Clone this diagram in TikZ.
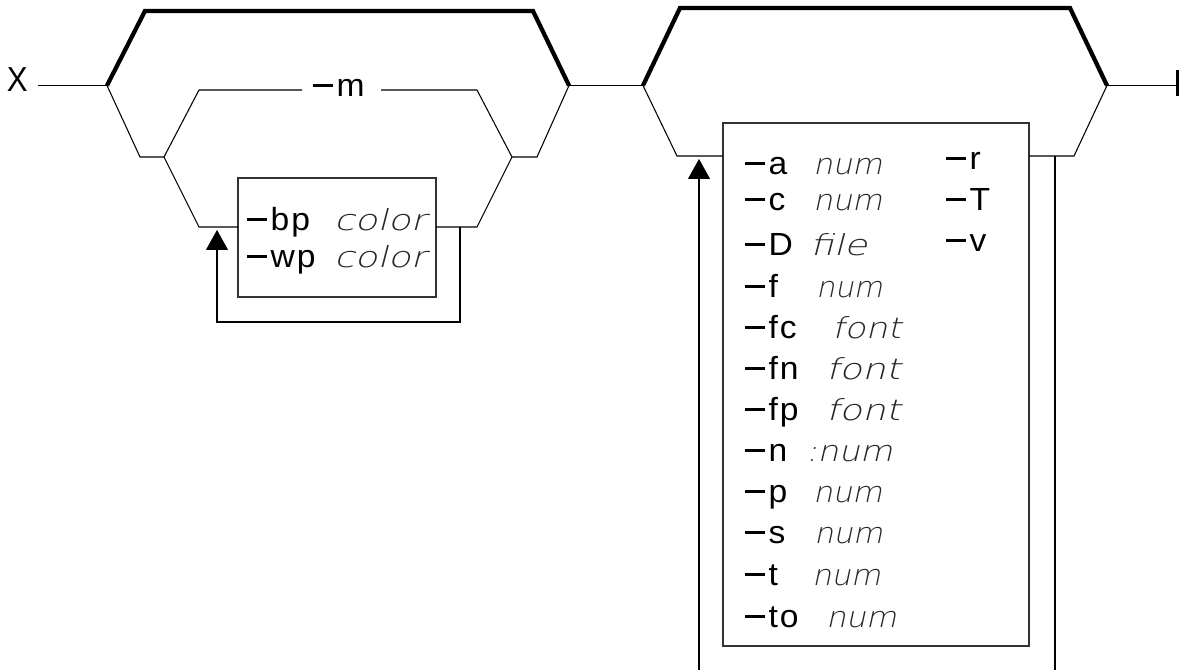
\documentclass[tikz,border=0pt]{standalone}
\usepackage{fontspec}
\usepackage{graphicx}
\setmainfont{Liberation Sans}
\newfontfamily\rmtxt{Liberation Sans}[FakeStretch=1.05, LetterSpace=6]
\newfontfamily\xtxt{Liberation Sans}[FakeStretch=0.9]
\newfontfamily\ittxt{DejaVu Sans ExtraLight}[FakeSlant=0.2]
\newcommand\optdash{\rule[0.31em]{0.64em}{2.2pt}\kern0.1em}
\usetikzlibrary{arrows.meta}
\tikzset{
  thickbracket/.style={line width=3.2pt, line join=miter, line cap=butt},
  thinline/.style={line width=0.8pt},
  optbox/.style={draw=black!80, line width=1.1pt, rectangle, inner sep=0pt, outer sep=0pt},
  rtxt/.style={inner sep=0pt, outer sep=0pt, anchor=base west, font=\rmtxt\fontsize{24}{28}\selectfont},
  itxt/.style={inner sep=0pt, outer sep=0pt, anchor=base west, text=black!85, font=\ittxt\fontsize{21.7}{26}\selectfont},
  uparrow/.style={thinline, -{Triangle[length=15pt,width=16.5pt]}},
  endbar/.style={line width=1.8pt}
}
\begin{document}
\begin{tikzpicture}[x=0.75pt,y=-0.75pt]
\useasboundingbox (0,0) rectangle (1179,670);
% boxes
\node[optbox, minimum width=148.5pt, minimum height=89.25pt] (b1) at (337,237.5) {};
\node[optbox, minimum width=229.5pt, minimum height=392.25pt] (b2) at (876,384.5) {};
% start label
\node[inner sep=0pt, outer sep=0pt, anchor=base west, font=\xtxt\fontsize{26}{30}\selectfont] (X) at (7,92) {X};
% main line coordinates
\coordinate (xs) at (38,85.5);
\coordinate (L1) at (107,85.5);
\coordinate (T1a) at (145,11);
\coordinate (T1b) at (533,11);
\coordinate (R1) at (569,85.5);
\coordinate (L2) at (643,85.5);
\coordinate (T2a) at (680,8);
\coordinate (T2b) at (1070,8);
\coordinate (R2) at (1107,85.5);
\coordinate (E) at (1177.5,85.5);
\coordinate (Et) at (1177.5,70);
\coordinate (Eb) at (1177.5,96);
\draw[thinline] (xs) -- (L1);
\draw[thickbracket] (L1) -- (T1a) -- (T1b) -- (R1);
\draw[thinline] (R1) -- (L2);
\draw[thickbracket] (L2) -- (T2a) -- (T2b) -- (R2);
\draw[thinline] (R2) -- (E);
\draw[endbar] (Et) -- (Eb);
% first group, lower branches
\coordinate (a1) at (140,157);
\coordinate (j1) at (164,157);
\coordinate (j2) at (512,157);
\coordinate (a2) at (537,157);
\coordinate (m1) at (199,90);
\coordinate (mL) at (302,90);
\coordinate (mR) at (381,90);
\coordinate (m2) at (477,90);
\coordinate (p1) at (199,227);
\coordinate (p2) at (477,227);
\node[rtxt] (mt) at (313,97) {\optdash m};
\draw[thinline] (L1) -- (a1) -- (j1);
\draw[thinline] (j2) -- (a2) -- (R1);
\draw[thinline] (j1) -- (m1) -- (mL);
\draw[thinline] (mR) -- (m2) -- (j2);
\draw[thinline] (j1) -- (p1) -- (p1 -| b1.west);
\draw[thinline] (b1.east |- p2) -- (p2) -- (j2);
\coordinate (lr) at (460,227);
\coordinate (lb) at (460,322);
\coordinate (ll) at (217,322);
\coordinate (la) at (217,230);
\draw[uparrow] (lr) -- (lb) -- (ll) -- (la);
% box 1 text
\node[rtxt] (bp) at (247,231) {\optdash bp};
\node[itxt] (bpc) at (334,231) {\resizebox{69pt}{\height}{color}};
\node[rtxt] (wp) at (247,268) {\optdash wp};
\node[itxt] (wpc) at (334,268) {\resizebox{69pt}{\height}{color}};
% second group, lower branch
\coordinate (c1) at (677,156);
\coordinate (c2) at (1074,156);
\draw[thinline] (L2) -- (c1) -- (c1 -| b2.west);
\draw[thinline] (b2.east |- c2) -- (c2) -- (R2);
\coordinate (rv) at (1055,156);
\coordinate (rb) at (1055,670);
\coordinate (lb2) at (699,670);
\coordinate (lt2) at (699,159);
\draw[thinline] (rv) -- (rb);
\draw[uparrow] (lb2) -- (lt2);
% box 2 text, first column
\foreach \ka/\kb/\kc/\kd/\ke/\kf in {
  a/a/num/813/52/174.5,
  c/c/num/813/52/211,
  D/D/file/810/43/255.5,
  f/f/num/816/50/297.5,
  fc/fc/font/832/52/338.5,
  fn/fn/font/826/56/379.5,
  fp/fp/font/826/56/420.5,
  n/n/:num/806/65/461.5,
  p/p/num/813/52/502.5,
  s/s/num/814/51.5/543.5,
  t/t/num/812/51.5/585.5,
  to/to/num/826/53/627.5}{
  \node[rtxt] (r\ka) at (745,\kf) {\optdash\kb};
  \node[itxt] (i\ka) at (\kd,\kf) {\resizebox{\ke pt}{\height}{\kc}};
}
% second column
\node[rtxt] (rr) at (946,170) {\optdash r};
\node[rtxt] (rT) at (946,211) {\optdash T};
\node[rtxt] (rv2) at (946,252) {\optdash v};
\end{tikzpicture}
\end{document}
